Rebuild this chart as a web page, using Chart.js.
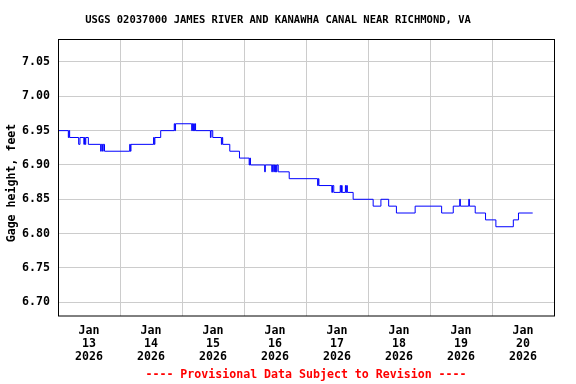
<!DOCTYPE html>
<html>
<head>
<meta charset="utf-8">
<script src="https://cdn.jsdelivr.net/npm/chart.js"></script>
<style>
  body { margin: 0; background: #ffffff; }
  canvas { display: block; }
</style>
</head>
<body>
<canvas id="grafico" width="576" height="384"></canvas>
<script>
// hours since Jan 13 2026 00:00 and gage height (ft), each point starts a new level
const horas = [0, 4.0, 4.25, 4.5, 8.0, 8.5, 10.0, 10.25, 10.5, 10.75, 11.75,
  16.5, 16.75, 17.25, 17.5, 18.0, 27.75, 28.0, 28.25, 37.0, 37.25, 37.5, 39.75,
  45.0, 45.25, 45.5, 51.75, 52.0, 52.25, 52.5, 52.75, 53.0, 53.25,
  59.0, 59.25, 59.9, 63.25, 63.5, 63.75, 66.5, 70.25, 74.0, 74.25, 74.5,
  80.0, 80.25, 82.75, 83.0, 83.5, 83.75, 84.0, 84.25, 84.5, 84.75, 85.25, 89.5,
  100.5, 100.75, 101.0, 106.0, 106.25, 106.75, 109.25, 109.5, 109.75, 110.0,
  111.25, 111.5, 111.75, 112.0, 114.25, 122.0, 125.0, 128.0, 131.0, 138.25,
  148.5, 153.0, 155.5, 155.75, 159.0, 159.25, 161.5, 165.5, 169.5, 176.25, 178.25, 183.75];
const nivel = [6.95, 6.94, 6.95, 6.94, 6.93, 6.94, 6.93, 6.94, 6.93, 6.94, 6.93,
  6.92, 6.93, 6.92, 6.93, 6.92, 6.93, 6.92, 6.93, 6.94, 6.93, 6.94, 6.95,
  6.96, 6.95, 6.96, 6.95, 6.96, 6.95, 6.96, 6.95, 6.96, 6.95,
  6.94, 6.95, 6.94, 6.93, 6.94, 6.93, 6.92, 6.91, 6.90, 6.91, 6.90,
  6.89, 6.90, 6.89, 6.90, 6.89, 6.90, 6.89, 6.90, 6.89, 6.90, 6.89, 6.88,
  6.87, 6.88, 6.87, 6.86, 6.87, 6.86, 6.87, 6.86, 6.87, 6.86,
  6.87, 6.86, 6.87, 6.86, 6.85, 6.84, 6.85, 6.84, 6.83, 6.84,
  6.83, 6.84, 6.85, 6.84, 6.85, 6.84, 6.83, 6.82, 6.81, 6.82, 6.83, 6.83];

const dias = ['13', '14', '15', '16', '17', '18', '19', '20'];
const mes = 'Jan';
const anio = '2026';
const ticksY = [6.70, 6.75, 6.80, 6.85, 6.90, 6.95, 7.00, 7.05];

const titulo = 'USGS 02037000 JAMES RIVER AND KANAWHA CANAL NEAR RICHMOND, VA';
const tituloY = 'Gage height, feet';
const pie = '---- Provisional Data Subject to Revision ----';
const fuente = '"DejaVu Sans Mono", "Liberation Mono", monospace';

const puntos = horas.map((h, i) => ({ x: h, y: nivel[i] }));

const textos = {
  id: 'textos',
  afterDraw(chart) {
    const ctx = chart.ctx;
    const area = chart.chartArea;
    ctx.save();
    // marco
    ctx.strokeStyle = '#000000';
    ctx.lineWidth = 1;
    ctx.strokeRect(area.left + 0.5, area.top - 0.5, area.right - area.left, area.bottom - area.top + 0.5);
    ctx.textAlign = 'center';
    ctx.textBaseline = 'middle';
    ctx.fillStyle = '#000000';
    ctx.font = 'bold 10.5px ' + fuente;
    ctx.fillText(titulo, 278, 20);
    ctx.font = 'bold 11.6px ' + fuente;
    ctx.save();
    ctx.translate(12, 183);
    ctx.rotate(-Math.PI / 2);
    ctx.fillText(tituloY, 0, 0);
    ctx.restore();
    ctx.fillStyle = '#ff0000';
    ctx.fillText(pie, (area.left + area.right) / 2, 375);
    ctx.restore();
  }
};

new Chart(document.getElementById('grafico'), {
  type: 'line',
  data: {
    datasets: [{
      data: puntos,
      borderColor: '#0000ff',
      borderWidth: 1,
      pointRadius: 0,
      stepped: true,
      fill: false
    }]
  },
  options: {
    responsive: false,
    animation: false,
    devicePixelRatio: 1,
    layout: { padding: { top: 40, right: 22, bottom: 0, left: 0 } },
    plugins: { legend: { display: false }, tooltip: { enabled: false } },
    scales: {
      x: {
        type: 'linear',
        min: 0,
        max: 192,
        afterFit: s => { s.height = 68; },
        afterBuildTicks: s => {
          const t = [];
          for (let v = 12; v <= 180; v += 12) t.push({ value: v });
          s.ticks = t;
        },
        border: { display: false },
        grid: {
          drawTicks: false,
          color: c => (c.tick && c.tick.value % 24 === 0) ? '#cccccc' : 'rgba(0,0,0,0)'
        },
        ticks: {
          autoSkip: false,
          maxRotation: 0,
          padding: 8,
          color: '#000000',
          font: { family: fuente, size: 11.6, weight: 'bold', lineHeight: 1.13 },
          callback: v => (v % 24 === 12) ? [mes, dias[(v - 12) / 24], anio] : ''
        }
      },
      y: {
        min: 6.68,
        max: 7.082,
        afterFit: s => { s.width = 58; },
        afterBuildTicks: s => { s.ticks = ticksY.map(v => ({ value: v })); },
        border: { display: false },
        grid: { drawTicks: false, color: '#cccccc' },
        ticks: {
          padding: 8,
          color: '#000000',
          font: { family: fuente, size: 11.6, weight: 'bold' },
          callback: v => v.toFixed(2)
        }
      }
    }
  },
  plugins: [textos]
});
</script>
</body>
</html>
